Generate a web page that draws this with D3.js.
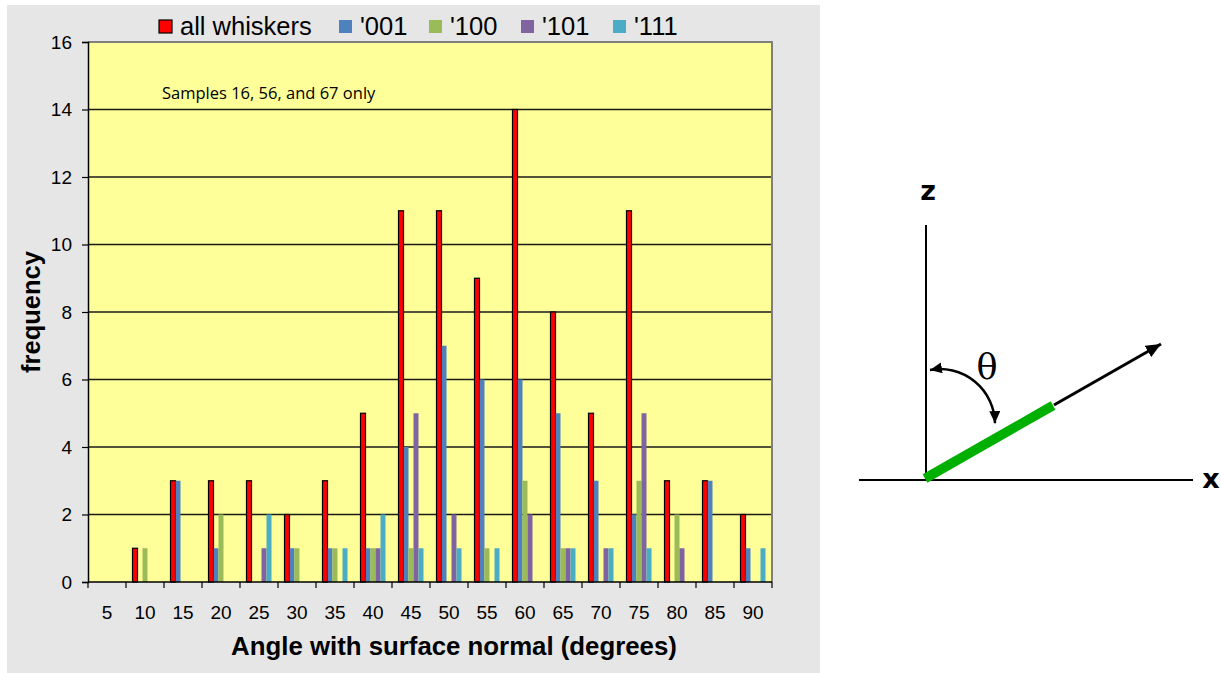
<!DOCTYPE html>
<html>
<head>
<meta charset="utf-8">
<script src="https://cdn.jsdelivr.net/npm/d3@7"></script>
<style>
  html, body { margin: 0; padding: 0; background: #ffffff; }
  svg { display: block; }
  text { font-family: "Liberation Sans", Arial, sans-serif; fill: #000; }
</style>
</head>
<body>
<svg id="chart" width="1221" height="673"></svg>
<script>
// Whisker orientation counts per 5-degree bin of angle from the surface normal
const categories = ["5","10","15","20","25","30","35","40","45","50","55","60","65","70","75","80","85","90"];
const allWhiskers = [0,1,3,3,3,2,3,5,11,11,9,14,8,5,11,3,3,2];
const grain001    = [0,0,3,1,0,1,1,1,4,7,6,6,5,3,2,0,3,1];
const grain100    = [0,1,0,2,0,1,1,1,1,0,1,3,1,0,3,2,0,0];
const grain101    = [0,0,0,0,1,0,0,1,5,2,0,2,1,1,5,1,0,0];
const grain111    = [0,0,0,0,2,0,1,2,1,1,1,0,1,1,1,0,0,1];
const seriesNames = ["all whiskers", "'001", "'100", "'101", "'111"];
const seriesColors = ["#FF0000", "#4F81BD", "#9BBB59", "#8064A2", "#4BACC6"];
const yTicks = [0, 2, 4, 6, 8, 10, 12, 14, 16];

const seriesValues = [allWhiskers, grain001, grain100, grain101, grain111];
const series = seriesNames.map((name, i) => ({ name, color: seriesColors[i], values: seriesValues[i] }));

const svg = d3.select("#chart");

// chart panel background
svg.append("rect").attr("x", 7).attr("y", 5).attr("width", 813).attr("height", 668).attr("fill", "#E6E6E6");

const plot = { left: 88, right: 772, top: 42, bottom: 582 };

const x = d3.scaleBand().domain(categories).range([plot.left, plot.right]).padding(0);
const xSub = d3.scaleBand().domain(seriesNames)
  .range([x.bandwidth() * 0.171, x.bandwidth() * 0.829]).padding(0);
const y = d3.scaleLinear().domain([0, 16]).range([plot.bottom, plot.top]);

// plot area
svg.append("rect")
  .attr("x", plot.left).attr("y", plot.top)
  .attr("width", plot.right - plot.left).attr("height", plot.bottom - plot.top)
  .attr("fill", "#FFFF99");

// horizontal gridlines
svg.append("g").selectAll("line")
  .data(yTicks.filter(d => d > 0 && d < 16))
  .join("line")
  .attr("x1", plot.left).attr("x2", plot.right)
  .attr("y1", d => y(d)).attr("y2", d => y(d))
  .attr("stroke", "#1a1a1a").attr("stroke-width", 1.5);

// top and right frame
svg.append("path")
  .attr("d", `M${plot.left},${y(16)}H${plot.right}V${plot.bottom}`)
  .attr("fill", "none").attr("stroke", "#7f7f7f").attr("stroke-width", 2);

// bars
const groups = svg.append("g").selectAll("g")
  .data(series)
  .join("g")
  .attr("fill", d => d.color);

groups.each(function(s, si) {
  d3.select(this).selectAll("rect")
    .data(s.values.map((v, i) => ({ cat: categories[i], v })).filter(d => d.v > 0))
    .join("rect")
    .attr("x", d => x(d.cat) + xSub(s.name))
    .attr("width", xSub.bandwidth())
    .attr("y", d => y(d.v))
    .attr("height", d => y(0) - y(d.v))
    .attr("stroke", si === 0 ? "#000" : "none")
    .attr("stroke-width", si === 0 ? 1.2 : 0);
});

// y axis
const yAxis = svg.append("g")
  .attr("transform", `translate(${plot.left},0)`)
  .call(d3.axisLeft(y).tickValues(yTicks).tickFormat(d3.format("d")).tickSize(6).tickPadding(10));
yAxis.select(".domain").attr("stroke", "#000").attr("stroke-width", 1.5);
yAxis.selectAll(".tick line").attr("stroke", "#000").attr("stroke-width", 1.2);
yAxis.selectAll("text").attr("font-size", 19).attr("font-family", "Liberation Sans, Arial, sans-serif").attr("fill", "#000");

// x axis: labels centred on categories
const xAxis = svg.append("g")
  .attr("transform", `translate(0,${plot.bottom})`)
  .call(d3.axisBottom(x).tickSize(0).tickPadding(23.5));
xAxis.select(".domain").remove();
xAxis.selectAll("text").attr("font-size", 19).attr("font-family", "Liberation Sans, Arial, sans-serif").attr("fill", "#000");

// x axis line and ticks at category boundaries
svg.append("line")
  .attr("x1", plot.left).attr("x2", plot.right)
  .attr("y1", plot.bottom).attr("y2", plot.bottom)
  .attr("stroke", "#000").attr("stroke-width", 1.5);
svg.append("g").selectAll("line")
  .data(categories.map(c => x(c)).concat([x.range()[1]]))
  .join("line")
  .attr("x1", d => d).attr("x2", d => d)
  .attr("y1", plot.bottom).attr("y2", plot.bottom + 6)
  .attr("stroke", "#000").attr("stroke-width", 1.2);

// axis titles
svg.append("text")
  .attr("x", 454).attr("y", 655)
  .attr("text-anchor", "middle")
  .attr("font-size", 25.8).attr("font-weight", "bold")
  .text("Angle with surface normal (degrees)");

svg.append("text")
  .attr("transform", "translate(40,312) rotate(-90)")
  .attr("text-anchor", "middle")
  .attr("font-size", 25.5).attr("font-weight", "bold")
  .text("frequency");

// annotation
svg.append("text")
  .attr("x", 162).attr("y", 99)
  .attr("font-size", 16.5)
  .style("font-family", "'Open Sans', 'Noto Sans', sans-serif")
  .text("Samples 16, 56, and 67 only");

// legend
const legendX = [159, 339, 429, 521, 613];
const legend = svg.append("g").selectAll("g")
  .data(series)
  .join("g")
  .attr("transform", (d, i) => `translate(${legendX[i]},0)`);
legend.append("rect")
  .attr("x", 0).attr("y", 20).attr("width", 13).attr("height", 13)
  .attr("fill", d => d.color)
  .attr("stroke", (d, i) => i === 0 ? "#000" : "none")
  .attr("stroke-width", 1.2);
legend.append("text")
  .attr("x", 21).attr("y", 35)
  .attr("font-size", 25.5)
  .text(d => d.name);

// ---- orientation sketch: whisker at angle theta from the z (surface normal) axis ----
const defs = svg.append("defs");
defs.append("marker")
  .attr("id", "headBig")
  .attr("viewBox", "0 0 15 13").attr("refX", 15).attr("refY", 6.5)
  .attr("markerWidth", 15).attr("markerHeight", 13)
  .attr("markerUnits", "userSpaceOnUse")
  .attr("orient", "auto")
  .append("path").attr("d", "M0,0L15,6.5L0,13Z").attr("fill", "#000");
defs.append("marker")
  .attr("id", "headSmall")
  .attr("viewBox", "0 0 12 11").attr("refX", 12).attr("refY", 5.5)
  .attr("markerWidth", 12).attr("markerHeight", 11)
  .attr("markerUnits", "userSpaceOnUse")
  .attr("orient", "auto-start-reverse")
  .append("path").attr("d", "M0,0L12,5.5L0,11Z").attr("fill", "#000");

const sketch = svg.append("g");
const origin = [926, 480];

// axes
sketch.append("line")
  .attr("x1", origin[0]).attr("y1", 225).attr("x2", origin[0]).attr("y2", origin[1])
  .attr("stroke", "#000").attr("stroke-width", 2);
sketch.append("line")
  .attr("x1", 859).attr("y1", origin[1]).attr("x2", 1193).attr("y2", origin[1])
  .attr("stroke", "#000").attr("stroke-width", 2);

// direction arrow continuing the whisker
sketch.append("line")
  .attr("x1", 1054).attr("y1", 405).attr("x2", 1161).attr("y2", 344)
  .attr("stroke", "#000").attr("stroke-width", 3)
  .attr("marker-end", "url(#headBig)");

// whisker
sketch.append("line")
  .attr("x1", 925).attr("y1", 478.5).attr("x2", 1053).attr("y2", 405.5)
  .attr("stroke", "#00B000").attr("stroke-width", 9.5);

// angle arc with arrowheads on both ends
const arc = d3.path();
arc.arc(939.8, 424.3, 55.2, -1.75, -0.02, false);
sketch.append("path")
  .attr("d", arc.toString())
  .attr("fill", "none").attr("stroke", "#000").attr("stroke-width", 2.5)
  .attr("marker-start", "url(#headSmall)")
  .attr("marker-end", "url(#headSmall)");

// labels
sketch.append("text")
  .attr("x", 928).attr("y", 200).attr("text-anchor", "middle")
  .attr("font-size", 27).attr("font-weight", "bold")
  .style("font-family", "'DejaVu Sans', sans-serif")
  .text("z");
sketch.append("text")
  .attr("x", 1211).attr("y", 488).attr("text-anchor", "middle")
  .attr("font-size", 27).attr("font-weight", "bold")
  .style("font-family", "'DejaVu Sans', sans-serif")
  .text("x");
sketch.append("text")
  .attr("x", 987).attr("y", 379).attr("text-anchor", "middle")
  .attr("font-size", 35)
  .style("font-family", "'DejaVu Serif', 'Liberation Serif', serif")
  .text("θ");
</script>
</body>
</html>
